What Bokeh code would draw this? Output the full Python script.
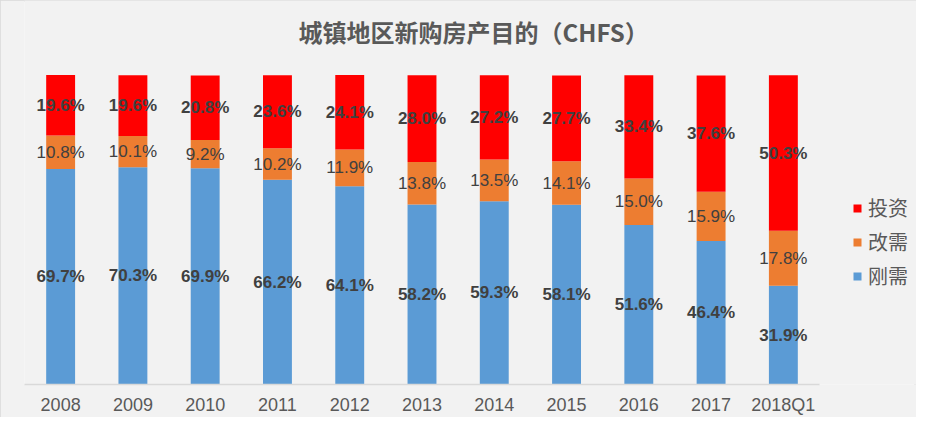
from bokeh.plotting import figure
from bokeh.models import Range1d, Legend, LegendItem, ColumnDataSource, FixedTicker, Label
from bokeh.core.properties import value
from bokeh.embed import file_html
from bokeh.resources import INLINE

categories = ["2008", "2009", "2010", "2011", "2012", "2013", "2014", "2015", "2016", "2017", "2018Q1"]
rigid = [69.7, 70.3, 69.9, 66.2, 64.1, 58.2, 59.3, 58.1, 51.6, 46.4, 31.9]      # 刚需
improve = [10.8, 10.1, 9.2, 10.2, 11.9, 13.8, 13.5, 14.1, 15.0, 15.9, 17.8]     # 改需
invest = [19.6, 19.6, 20.8, 23.6, 24.1, 28.0, 27.2, 27.7, 33.4, 37.6, 50.3]     # 投资
series_names = ["刚需", "改需", "投资"]
series_colors = ["#5B9BD5", "#ED7D31", "#FF0000"]
title_text = "城镇地区新购房产目的（CHFS）"

# layout in pixels
W, H = 916, 417
left, bottom = 24, 32
frame_w = W - left
frame_h = H - bottom                    # frame spans the full height above the axis
bar_zone_h = 310                        # pixel height of the 0..100% zone
cat_px = 795 / len(categories)          # pixel width of one category band
x_idx = list(range(len(categories)))
y_top = 100 * frame_h / bar_zone_h

p = figure(x_range=Range1d(-0.5, -0.5 + frame_w / cat_px), y_range=Range1d(0, y_top),
           width=W, height=H, output_backend="svg", toolbar_location=None,
           y_axis_location=None, title=None,
           min_border_left=left, min_border_right=0, min_border_top=0, min_border_bottom=bottom,
           background_fill_color="#f2f2f2", border_fill_color="#f2f2f2",
           outline_line_color=None)
p.styles = {"outline": "2px solid #d9d9d9", "outline-offset": "-2px"}

p.xgrid.visible = False
p.ygrid.visible = False

series = [rigid, improve, invest]
bottoms = [0.0] * len(categories)
renderers = []
label_sources = []
for vals, name, col in zip(series, series_names, series_colors):
    tops = [b + v for b, v in zip(bottoms, vals)]
    src = ColumnDataSource(dict(x=x_idx, bottom=bottoms, top=tops,
                                mid=[(b + t) / 2 for b, t in zip(bottoms, tops)],
                                label=[f"{v:.1f}%" for v in vals]))
    r = p.vbar(x="x", bottom="bottom", top="top", width=0.4, source=src,
               fill_color=col, line_color=None)
    renderers.append(r)
    label_sources.append(src)
    bottoms = tops

for i, src in enumerate(label_sources):
    p.text(x="x", y="mid", text="label", source=src,
           text_align="center", text_baseline="middle",
           text_font=value("Liberation Sans"), text_font_size="17px",
           text_font_style="normal" if i == 1 else "bold",
           text_color="#404040")

ax = p.xaxis[0]
ax.ticker = FixedTicker(ticks=x_idx)
ax.major_label_overrides = {i: c for i, c in zip(x_idx, categories)}
ax.bounds = (-0.5, len(categories) - 0.5)
ax.axis_line_color = "#d9d9d9"
ax.axis_line_width = 1.5
ax.major_tick_line_color = None
ax.minor_tick_line_color = None
ax.major_tick_out = 0
ax.major_tick_in = 0
ax.major_label_standoff = 10
ax.major_label_text_font = "Liberation Sans"
ax.major_label_text_font_size = "18px"
ax.major_label_text_color = "#595959"

legend = Legend(items=[LegendItem(label=series_names[2], renderers=[renderers[2]]),
                       LegendItem(label=series_names[1], renderers=[renderers[1]]),
                       LegendItem(label=series_names[0], renderers=[renderers[0]])],
                location=(828, 94), margin=0, padding=0, spacing=5,
                glyph_width=10, glyph_height=10, label_height=24, label_standoff=6,
                label_text_font="Noto Sans CJK SC", label_text_font_size="20px",
                label_text_color="#595959", background_fill_alpha=0,
                border_line_color=None)
p.add_layout(legend, "center")

# chart title, placed in the empty band above the 100% line
title = Label(x=-0.5 + (298 - left) / cat_px, y=y_top * (frame_h - 31.5) / frame_h,
              text=title_text, text_align="left", text_baseline="middle",
              text_font="Noto Sans CJK SC", text_font_size="24px", text_font_style="bold",
              text_color="#595959")
p.add_layout(title)

open("out.html", "w").write(file_html(p, INLINE))
